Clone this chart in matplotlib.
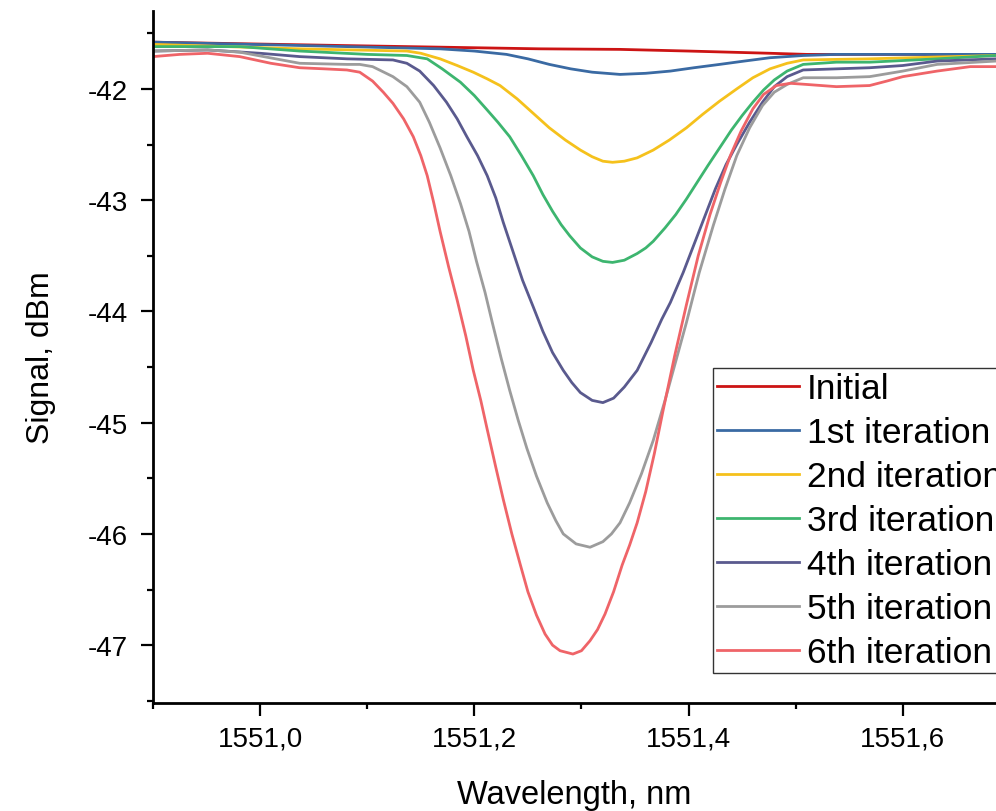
import matplotlib
matplotlib.use("Agg")
import matplotlib.pyplot as plt
from matplotlib.ticker import MultipleLocator, FuncFormatter

plt.rcParams['font.family'] = ['Liberation Sans', 'DejaVu Sans']
plt.rcParams['axes.unicode_minus'] = False

labels = ["Initial", "1st iteration", "2nd iteration", "3rd iteration",
          "4th iteration", "5th iteration", "6th iteration"]
colors = ["#CC1414", "#3A6AA3", "#F5C11C", "#3DB56F", "#5A5A8E", "#9C9C9C", "#EF6468"]

x_init = [1550.900, 1551.075, 1551.261, 1551.336, 1551.400, 1551.476, 1551.510, 1551.600, 1551.687]
y_init = [-41.58, -41.61, -41.64, -41.645, -41.66, -41.68, -41.69, -41.69, -41.69]

x_it1 = [1550.900, 1551.037, 1551.168, 1551.200, 1551.230, 1551.250, 1551.270, 1551.290,
         1551.310, 1551.336, 1551.360, 1551.383, 1551.405, 1551.429, 1551.452, 1551.476,
         1551.507, 1551.538, 1551.687]
y_it1 = [-41.58, -41.61, -41.64, -41.66, -41.69, -41.73, -41.78, -41.82,
         -41.85, -41.87, -41.86, -41.84, -41.81, -41.78, -41.75, -41.72,
         -41.70, -41.69, -41.69]

x_it2 = [1550.900, 1551.037, 1551.137, 1551.150, 1551.168, 1551.184, 1551.199, 1551.212,
         1551.224, 1551.240, 1551.255, 1551.270, 1551.285, 1551.299, 1551.310, 1551.320,
         1551.329, 1551.340, 1551.352, 1551.367, 1551.382, 1551.398, 1551.413, 1551.429,
         1551.445, 1551.460, 1551.476, 1551.492, 1551.507, 1551.569, 1551.687]
y_it2 = [-41.60, -41.64, -41.66, -41.68, -41.73, -41.79, -41.85, -41.91,
         -41.97, -42.09, -42.22, -42.35, -42.46, -42.55, -42.61, -42.65,
         -42.66, -42.65, -42.62, -42.55, -42.46, -42.35, -42.23, -42.11,
         -42.00, -41.90, -41.82, -41.77, -41.74, -41.73, -41.70]

x_it3 = [1550.900, 1550.981, 1551.037, 1551.100, 1551.137, 1551.156, 1551.170, 1551.187,
         1551.200, 1551.212, 1551.222, 1551.233, 1551.244, 1551.255, 1551.264, 1551.273,
         1551.281, 1551.289, 1551.299, 1551.310, 1551.320, 1551.329, 1551.340, 1551.352,
         1551.360, 1551.367, 1551.378, 1551.388, 1551.398, 1551.408, 1551.418, 1551.429,
         1551.440, 1551.450, 1551.460, 1551.470, 1551.480, 1551.492, 1551.507, 1551.538,
         1551.569, 1551.632, 1551.687]
y_it3 = [-41.62, -41.62, -41.66, -41.69, -41.70, -41.73, -41.82, -41.94,
         -42.06, -42.19, -42.30, -42.43, -42.60, -42.78, -42.95, -43.10,
         -43.22, -43.32, -43.43, -43.51, -43.55, -43.56, -43.54, -43.48,
         -43.43, -43.37, -43.25, -43.13, -42.99, -42.84, -42.69, -42.53,
         -42.37, -42.24, -42.12, -42.01, -41.92, -41.84, -41.78, -41.76,
         -41.76, -41.73, -41.70]

x_it4 = [1550.900, 1550.951, 1551.000, 1551.037, 1551.081, 1551.124, 1551.137, 1551.149,
         1551.162, 1551.174, 1551.184, 1551.193, 1551.203, 1551.212, 1551.220, 1551.227,
         1551.236, 1551.245, 1551.255, 1551.264, 1551.273, 1551.283, 1551.291, 1551.299,
         1551.310, 1551.320, 1551.330, 1551.340, 1551.352, 1551.365, 1551.375, 1551.383,
         1551.395, 1551.405, 1551.413, 1551.425, 1551.435, 1551.445, 1551.457, 1551.469,
         1551.480, 1551.492, 1551.507, 1551.538, 1551.569, 1551.600, 1551.632, 1551.687]
y_it4 = [-41.66, -41.65, -41.68, -41.71, -41.73, -41.74, -41.77, -41.84,
         -41.97, -42.12, -42.27, -42.43, -42.60, -42.78, -42.98, -43.20,
         -43.46, -43.72, -43.96, -44.18, -44.37, -44.53, -44.64, -44.73,
         -44.80, -44.82, -44.78, -44.68, -44.53, -44.28, -44.07, -43.92,
         -43.65, -43.40, -43.20, -42.90, -42.68, -42.50, -42.30, -42.12,
         -41.98, -41.89, -41.83, -41.82, -41.81, -41.79, -41.75, -41.73]

x_it5 = [1550.900, 1550.951, 1550.981, 1551.037, 1551.081, 1551.093, 1551.105, 1551.124,
         1551.137, 1551.149, 1551.158, 1551.168, 1551.178, 1551.187, 1551.195, 1551.202,
         1551.210, 1551.217, 1551.225, 1551.233, 1551.241, 1551.249, 1551.258, 1551.268,
         1551.276, 1551.283, 1551.295, 1551.308, 1551.320, 1551.328, 1551.336, 1551.345,
         1551.356, 1551.367, 1551.378, 1551.388, 1551.398, 1551.410, 1551.423, 1551.434,
         1551.445, 1551.457, 1551.469, 1551.480, 1551.492, 1551.507, 1551.538, 1551.569,
         1551.600, 1551.632, 1551.687]
y_it5 = [-41.66, -41.65, -41.67, -41.77, -41.78, -41.78, -41.80, -41.89,
         -41.98, -42.12, -42.30, -42.53, -42.78, -43.03, -43.28, -43.55,
         -43.83, -44.11, -44.42, -44.71, -44.98, -45.23, -45.48, -45.72,
         -45.88, -46.00, -46.09, -46.12, -46.07, -46.00, -45.90, -45.72,
         -45.46, -45.16, -44.80, -44.45, -44.10, -43.65, -43.23, -42.90,
         -42.60, -42.35, -42.15, -42.03, -41.96, -41.90, -41.90, -41.89,
         -41.84, -41.78, -41.75]

x_it6 = [1550.900, 1550.925, 1550.951, 1550.981, 1551.010, 1551.037, 1551.060, 1551.081,
         1551.093, 1551.105, 1551.115, 1551.124, 1551.134, 1551.143, 1551.150, 1551.156,
         1551.162, 1551.168, 1551.176, 1551.184, 1551.192, 1551.199, 1551.206, 1551.212,
         1551.220, 1551.227, 1551.235, 1551.243, 1551.250, 1551.258, 1551.266, 1551.273,
         1551.280, 1551.292, 1551.300, 1551.308, 1551.315, 1551.322, 1551.330, 1551.338,
         1551.345, 1551.352, 1551.360, 1551.368, 1551.376, 1551.387, 1551.398, 1551.409,
         1551.420, 1551.430, 1551.439, 1551.449, 1551.460, 1551.470, 1551.482, 1551.495,
         1551.510, 1551.538, 1551.569, 1551.585, 1551.600, 1551.632, 1551.663, 1551.687]
y_it6 = [-41.71, -41.69, -41.68, -41.71, -41.77, -41.81, -41.82, -41.83,
         -41.85, -41.93, -42.03, -42.13, -42.27, -42.43, -42.60, -42.78,
         -43.02, -43.28, -43.60, -43.90, -44.22, -44.53, -44.80, -45.06,
         -45.40, -45.69, -46.00, -46.28, -46.52, -46.73, -46.90, -47.00,
         -47.05, -47.08, -47.05, -46.96, -46.86, -46.72, -46.52, -46.28,
         -46.10, -45.90, -45.62, -45.28, -44.90, -44.40, -43.94, -43.50,
         -43.13, -42.84, -42.60, -42.38, -42.18, -42.05, -41.97, -41.95,
         -41.96, -41.98, -41.97, -41.93, -41.89, -41.84, -41.80, -41.80]

series_x = [x_init, x_it1, x_it2, x_it3, x_it4, x_it5, x_it6]
series_y = [y_init, y_it1, y_it2, y_it3, y_it4, y_it5, y_it6]

fig = plt.figure(figsize=(9.96, 8.12), dpi=100)
ax = fig.add_axes([153/996, 108/812, (996-153)/996, (704-12)/812])

for xs, ys, c, lab in zip(series_x, series_y, colors, labels):
    ax.plot(xs, ys, color=c, lw=2.0, label=lab, solid_joinstyle='round')

ax.set_xlim(1550.900, 1551.687)
ax.set_ylim(-47.52, -41.30)

ax.xaxis.set_major_locator(MultipleLocator(0.2))
ax.xaxis.set_minor_locator(MultipleLocator(0.1))
ax.yaxis.set_major_locator(MultipleLocator(1))
ax.yaxis.set_minor_locator(MultipleLocator(0.5))
ax.xaxis.set_major_formatter(FuncFormatter(lambda v, p: f"{v:.1f}".replace('.', ',')))
ax.yaxis.set_major_formatter(FuncFormatter(lambda v, p: f"{v:.0f}"))

for s in ['top', 'right']:
    ax.spines[s].set_visible(False)
for s in ['left', 'bottom']:
    ax.spines[s].set_linewidth(2.0)

ax.tick_params(axis='both', which='major', direction='out', length=9, width=1.6, labelsize=20)
ax.tick_params(axis='both', which='minor', direction='out', length=4.5, width=1.6)
ax.tick_params(axis='x', which='major', pad=7)
ax.tick_params(axis='y', which='major', pad=9)

ax.set_xlabel("Wavelength, nm", fontsize=23.5, labelpad=20)
ax.set_ylabel("Signal, dBm", fontsize=23, labelpad=23)

leg = fig.legend(loc='upper left', bbox_to_anchor=(713/996, 1 - 369/812),
                 fontsize=25.5, frameon=True, fancybox=False, borderpad=0.12,
                 handlelength=2.3, handletextpad=0.22, labelspacing=0.31,
                 borderaxespad=0)
leg.get_frame().set_edgecolor('black')
leg.get_frame().set_linewidth(1.0)

fig.savefig("out.png", dpi=100)
